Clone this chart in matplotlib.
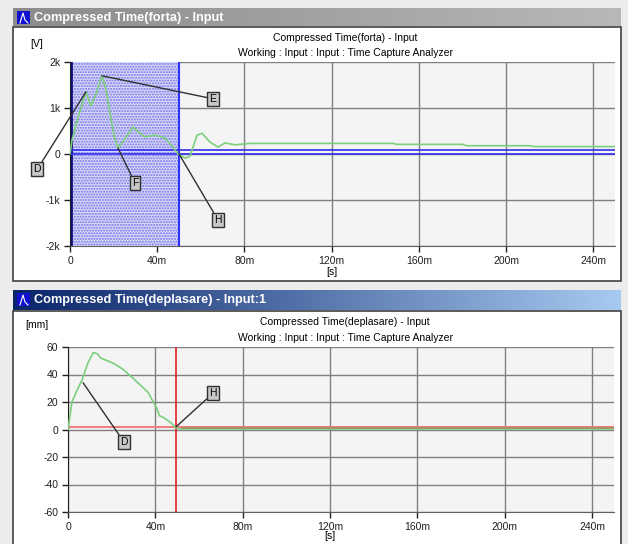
import numpy as np
import matplotlib
matplotlib.use("Agg")
import matplotlib.pyplot as plt
from matplotlib.patches import Rectangle

# force signal (top), time in ms
t_force = [0, 0.9, 3.7, 7.3, 9.6, 11.9, 14.7, 16.5, 18.3, 20.2, 22, 24.8, 28.9, 32.1, 34.4,
           39, 43.6, 47.2, 49.5, 52.8, 55, 58.3, 60.6, 64.2, 67.9, 71.1, 75.7, 82.6,
           148, 150, 180, 182, 211, 213, 250]
v_force = [0, 300, 800, 1350, 1050, 1300, 1700, 1400, 900, 400, 130, 300, 590, 450, 370,
           410, 350, 150, 0, -90, -50, 410, 450, 260, 150, 240, 200, 230,
           230, 210, 210, 180, 180, 160, 160]

# displacement signal (bottom)
t_disp = [0, 1.8, 4, 6.4, 9, 11.6, 13.5, 15, 18, 21, 25, 30, 34, 36.7, 38, 40.5, 41.9,
          44, 47.4, 49.4, 52, 250]
v_disp = [0, 20, 28, 36, 48, 56, 55, 52, 50, 48, 44, 37, 31, 27, 23, 16, 10,
          8.5, 4.5, 1, 0.5, 0.5]

x_ticks = [0, 40, 80, 120, 160, 200, 240]
x_labels = ["0", "40m", "80m", "120m", "160m", "200m", "240m"]
force_ticks = [-2000, -1000, 0, 1000, 2000]
force_labels = ["-2k", "-1k", "0", "1k", "2k"]
disp_ticks = [-60, -40, -20, 0, 20, 40, 60]

W, H = 628, 544
plt.rcParams['font.family'] = ['Liberation Sans', 'DejaVu Sans']
fig = plt.figure(figsize=(W / 100, H / 100), dpi=100, facecolor='#ececec')

# window chrome drawn in pixel coords
bg = fig.add_axes([0, 0, 1, 1])
bg.set_xlim(0, W)
bg.set_ylim(H, 0)
bg.axis('off')

def window(y_title, y_body, y_end, cmap_cols, title):
    grad = np.linspace(0, 1, 256).reshape(1, -1)
    cm = matplotlib.colors.LinearSegmentedColormap.from_list('t', cmap_cols)
    bg.imshow(grad, cmap=cm, aspect='auto', extent=(13, 621, y_body - 1, y_title), zorder=1)
    bg.add_patch(Rectangle((13, y_body), 608, y_end - y_body, fc='white', ec='#404040', lw=1.2, zorder=1))
    bg.add_patch(Rectangle((17, y_title + 3), 13, 13, fc='#1010d0', ec='none', zorder=2))
    bg.plot([20, 23, 25, 28], [y_title + 15, y_title + 5, y_title + 12, y_title + 15], color='#ffffff', lw=0.8, zorder=3)
    bg.text(34, (y_title + y_body) / 2, title, color='white', fontsize=9.2, fontweight='bold',
            va='center', ha='left', zorder=3)

window(8, 27, 281, ['#8c8c8c', '#b8b8b8'], "Compressed Time(forta) - Input")
window(290, 311, 560, ['#0a246a', '#a6caf0'], "Compressed Time(deplasare) - Input:1")

def setup(ax, yticks, ylabels):
    ax.set_facecolor('#f4f4f4')
    ax.set_xlim(0, 250)
    ax.set_xticks(x_ticks)
    ax.set_xticklabels(x_labels)
    ax.set_yticks(yticks)
    ax.set_yticklabels(ylabels)
    ax.set_ylim(yticks[0], yticks[-1])
    ax.grid(True, color='#808080', lw=1)
    ax.set_axisbelow(True)
    for s in ['top', 'right']:
        ax.spines[s].set_visible(False)
    ax.spines['left'].set_color('#202020')
    ax.spines['bottom'].set_color('#606060')
    ax.tick_params(direction='out', length=4, width=1, labelsize=7.5, colors='#202020', pad=3)
    ax.text(120, -0.115, "[s]", transform=ax.get_xaxis_transform(), ha='center', va='top', fontsize=7.5)

box = dict(boxstyle='square,pad=0.2', fc='#c8c8c8', ec='#303030', lw=1)
arrow = dict(arrowstyle='-', color='#303030', lw=1, shrinkA=0, shrinkB=0)

# top panel
ax1 = fig.add_axes([70 / W, 1 - 246 / H, 545 / W, 184 / H])
setup(ax1, force_ticks, force_labels)
ax1.axvspan(0, 50, fc='#dadaf8', ec='#7070e8', hatch='......', lw=0, zorder=1)
ax1.axvline(50, color='#3030ff', lw=1.5, zorder=2)
ax1.axvline(0.3, color='#101080', lw=2, zorder=2)
ax1.axhline(0, color='#3030f0', lw=1.2, zorder=2)
ax1.axhline(90, color='#3030f0', lw=1.2, zorder=2)
ax1.plot(t_force, v_force, color='#7ccf7c', lw=1.2, zorder=3)
for lab, xy, xt in [("D", (7.3, 1350), (-15, -330)), ("E", (14.7, 1700), (65.6, 1200)),
                    ("F", (22, 130), (29.8, -630)), ("H", (50, 0), (67.9, -1435))]:
    ax1.annotate(lab, xy=xy, xytext=xt, fontsize=7.5, ha='center', va='center', bbox=box,
                 arrowprops=arrow, annotation_clip=False, zorder=5)
fig.text(345 / W, 1 - 38 / H, "Compressed Time(forta) - Input", ha='center', va='center', fontsize=7.5)
fig.text(345 / W, 1 - 53 / H, "Working : Input : Input : Time Capture Analyzer", ha='center', va='center', fontsize=7.5)
fig.text(37 / W, 1 - 44 / H, "[V]", ha='center', va='center', fontsize=7.5)

# bottom panel
ax2 = fig.add_axes([68 / W, 1 - 512 / H, 546 / W, 165 / H])
setup(ax2, disp_ticks, [str(v) for v in disp_ticks])
ax2.axhline(1.8, color='#f08080', lw=1.5, zorder=2)
ax2.axvline(49.5, color='#e02020', lw=1.2, zorder=2)
ax2.plot(t_disp, v_disp, color='#7ccf7c', lw=1.2, zorder=3)
ax2.plot([52, 250], [0.9, 0.9], color='#a09060', lw=1.2, zorder=3)
for lab, xy, xt in [("D", (6.9, 34), (25.7, -9.2)), ("H", (49.5, 2), (66.4, 26.4))]:
    ax2.annotate(lab, xy=xy, xytext=xt, fontsize=7.5, ha='center', va='center', bbox=box,
                 arrowprops=arrow, annotation_clip=False, zorder=5)
fig.text(345 / W, 1 - 322 / H, "Compressed Time(deplasare) - Input", ha='center', va='center', fontsize=7.5)
fig.text(345 / W, 1 - 338 / H, "Working : Input : Input : Time Capture Analyzer", ha='center', va='center', fontsize=7.5)
fig.text(37 / W, 1 - 325 / H, "[mm]", ha='center', va='center', fontsize=7.5)

fig.savefig("out.png", dpi=100, facecolor=fig.get_facecolor())
